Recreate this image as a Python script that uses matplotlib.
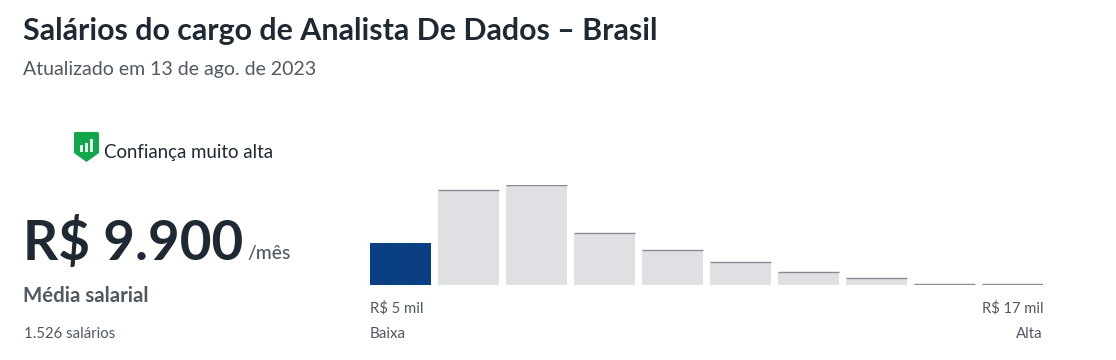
import matplotlib
matplotlib.use("Agg")
import matplotlib.pyplot as plt
from matplotlib.patches import Polygon, Rectangle
from matplotlib.transforms import Affine2D

W, H = 1116, 360
plt.rcParams['font.family'] = ['Lato', 'DejaVu Sans']

title = "Salários do cargo de Analista De Dados – Brasil"
subtitle = "Atualizado em 13 de ago. de 2023"
confidence = "Confiança muito alta"
salary = "R$ 9.900"
per = "/mês"
avg_label = "Média salarial"
count_label = "1.526 salários"
low_value, high_value = "R$ 5 mil", "R$ 17 mil"
low_label, high_label = "Baixa", "Alta"

bins = list(range(10))
heights = [42, 95, 100, 52, 35, 23, 13, 7, 1.5, 1.5]
highlight = 0

fig = plt.figure(figsize=(W / 100, H / 100), dpi=100, facecolor='white')

def T(x, y, s, size, color, weight='normal', ha='left', va='baseline'):
    fig.text(x / W, 1 - y / H, s, fontsize=size, color=color, fontweight=weight, ha=ha, va=va)

DARK = '#1f2933'
GREY = '#505863'
T(23, 40, title, 21.85, DARK, 'bold')
T(23, 75, subtitle, 14.05, GREY)
T(104, 158, confidence, 13.4, DARK)
T(23, 260, salary, 39.4, DARK, 'bold')
T(247, 259, per, 13.9, GREY, 'medium')
T(23, 302, avg_label, 14.7, GREY, 'bold')
T(24, 338, count_label, 10.8, GREY)
T(370, 313, low_value, 10.7, GREY)
T(1043, 313, high_value, 10.6, GREY, ha='right')
T(370, 338, low_label, 10.9, GREY)
T(1043, 338, high_label, 10.7, GREY, ha='right')

ax = fig.add_axes([370 / W, 1 - 285 / H, 673 / W, 100 / H])
ax.set_xlim(-0.45, 9.45)
ax.set_ylim(0, 100)
ax.axis('off')
w = 61 / 68
colors = ['#0b3f84' if i == highlight else '#dfe0e4' for i in bins]
ax.bar(bins, heights, width=w, color=colors, linewidth=0)
for i, h in zip(bins, heights):
    if i != highlight:
        ax.hlines(h, i - w / 2, i + w / 2, color='#878b92', linewidth=1.0)

px = Affine2D().scale(1 / W, -1 / H).translate(0, 1) + fig.transFigure
shield = [(75, 132), (98, 132), (99, 133), (99, 153), (86.5, 162), (74, 153), (74, 133)]
fig.add_artist(Polygon(shield, closed=True, transform=px, facecolor='#12a74a', edgecolor='none'))
for x, y0, hh in [(80, 145, 7), (85, 142.5, 9.5), (90, 139, 13)]:
    fig.add_artist(Rectangle((x, y0), 3, hh, transform=px, facecolor='#e3f5ea', edgecolor='none'))

fig.savefig('out.png', dpi=100, facecolor='white')
